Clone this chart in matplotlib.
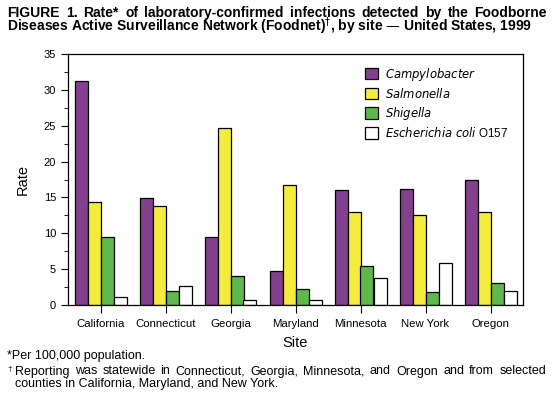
import numpy as np
import matplotlib
matplotlib.use("Agg")
from matplotlib import pyplot as plt
from matplotlib.ticker import MultipleLocator

plt.rcParams['font.family'] = ['Liberation Sans', 'DejaVu Sans']

sites = ['California', 'Connecticut', 'Georgia', 'Maryland', 'Minnesota', 'New York', 'Oregon']
campylobacter = [31.3, 14.9, 9.5, 4.8, 16.1, 16.2, 17.4]
salmonella = [14.3, 13.8, 24.7, 16.8, 12.9, 12.6, 13.0]
shigella = [9.5, 1.9, 4.1, 2.3, 5.4, 1.8, 3.0]
ecoli = [1.1, 2.6, 0.7, 0.7, 3.7, 5.8, 1.9]

series = [
  (campylobacter, '#83408f', r'$\it{Campylobacter}$'),
  (salmonella, '#f4ec3c', r'$\it{Salmonella}$'),
  (shigella, '#5fb84c', r'$\it{Shigella}$'),
  (ecoli, 'white', r'$\it{Escherichia\ coli}$ O157'),
]

W, H = 557., 395.
fig = plt.figure(figsize=(5.57, 3.95), dpi=100)
ax = fig.add_axes([68/W, 1-305/H, 455/W, 251/H])

x = np.arange(len(sites))
w = 0.2
for i, (vals, col, lab) in enumerate(series):
  ax.bar(x + (i-1.5)*w, vals, w, color=col, edgecolor='black', linewidth=0.9, label=lab)

ax.set_xlim(-0.5, 6.5)
ax.set_ylim(0, 35)
ax.yaxis.set_major_locator(MultipleLocator(5))
ax.yaxis.set_minor_locator(MultipleLocator(2.5))
ax.set_xticks(x)
ax.set_xticklabels(sites, fontsize=8.2)
ax.tick_params(axis='y', which='major', length=5, labelsize=8, direction='out')
ax.tick_params(axis='y', which='minor', length=3, direction='out')
ax.tick_params(axis='x', length=6, direction='out', pad=4)
for s in ax.spines.values():
  s.set_linewidth(0.9)

ax.set_ylabel('Rate', fontsize=10.5, labelpad=10)
ax.set_xlabel('Site', fontsize=10.5, labelpad=5)

ax.legend(loc='upper left', bbox_to_anchor=(0.63, 0.995), frameon=False, fontsize=8.4,
          handlelength=1.1, handleheight=1.1, labelspacing=0.35, handletextpad=0.6)

def justified(words, y, x0, x1, **kw):
  # spread words so the line fills x0..x1 (pixels), y is the baseline
  r = fig.canvas.get_renderer()
  T = [fig.text(0, 1-y/H, wd, va='baseline', ha='left', **kw) for wd in words]
  widths = [t.get_window_extent(r).width for t in T]
  gap = (x1 - x0 - sum(widths)) / (len(words) - 1)
  pos = x0
  for t, wd in zip(T, widths):
    t.set_x(pos/W)
    pos += wd + gap

justified('FIGURE 1. Rate* of laboratory-confirmed infections detected by the Foodborne'.split(),
          17, 7, 547, fontsize=10, fontweight='bold')
fig.text(7/W, 1-31/H, 'Diseases Active Surveillance Network (Foodnet)$^{\\dagger}$, by site \u2014 United States, 1999',
         fontsize=10, fontweight='bold', va='baseline', ha='left')

fig.text(7/W, 1-359.5/H, '*Per 100,000 population.', fontsize=9, va='baseline')
fig.text(7/W, 1-371/H, '\u2020', fontsize=6, va='baseline')
justified('Reporting was statewide in Connecticut, Georgia, Minnesota, and Oregon and from selected'.split(),
          374.5, 15, 546, fontsize=9)
fig.text(15/W, 1-386.5/H, 'counties in California, Maryland, and New York.', fontsize=9, va='baseline')

fig.savefig('out.png', dpi=100)
